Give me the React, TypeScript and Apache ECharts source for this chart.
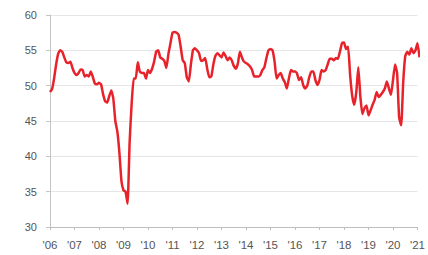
import React, { useEffect, useRef } from "react";
import * as echarts from "echarts";

// Monthly index values, Jan 2006 onward
const y2006 = [49.1, 49.5, 51, 53, 54.5, 55, 54.8, 54, 53.3, 53.2, 53.4, 52.5];
const y2007 = [51.8, 51.5, 51.8, 52.3, 52.2, 51.3, 51.5, 51.3, 52, 51.2, 50.3, 50.2];
const y2008 = [50.4, 50.2, 48.8, 47.8, 47.6, 48.5, 49.3, 48.2, 45, 43.5, 40.5, 36.5];
const y2009 = [35.2, 35, 33.3, 42, 47.5, 51, 51, 53.3, 52, 51.8, 51.8, 51];
const y2010 = [52.2, 51.8, 52.4, 53.4, 54.8, 55, 54, 53.8, 53.5, 52.5, 54.5, 56];
const y2011 = [57.5, 57.6, 57.5, 57.2, 55.5, 53.6, 53.2, 51.2, 50.6, 53, 55, 55.3];
const y2012 = [55, 54.6, 53.5, 53.6, 53.9, 52.4, 51.2, 51.3, 53, 54.2, 54.6, 54.3];
const y2013 = [54, 54.7, 54.2, 53.6, 54, 53.6, 52.8, 52.4, 53.1, 54.8, 54, 53.4];
const y2014 = [53.2, 53, 52.7, 52.2, 51.3, 51.3, 51.3, 51.5, 52.2, 52.6, 53.9, 55];
const y2015 = [55.2, 55, 53.4, 51, 51.5, 51.8, 51, 50.5, 49.6, 51, 52.2, 52];
const y2016 = [52, 51.7, 50.8, 51.2, 50.1, 49.6, 50, 51.2, 52, 52, 50.8, 50.1];
const y2017 = [50.8, 52.2, 52, 52.2, 53, 53.8, 53.8, 53.6, 53.9, 53.8, 54.8, 56];
const y2018 = [56.1, 55.2, 55.5, 51.5, 48.6, 47.3, 49, 52.6, 48.5, 46, 46.8, 47.2];
const y2019 = [45.8, 46.5, 47.3, 48, 49.1, 48.4, 48.7, 49.1, 49.6, 50.6, 49.6, 48.7];
const y2020 = [50.8, 53, 51.8, 45.5, 44.4, 50.5, 54.2, 54.8, 54.4, 55.3, 54.6, 55];
const y2021 = [56, 54];

const yearLabels = ["'06", "'07", "'08", "'09", "'10", "'11", "'12", "'13", "'14", "'15", "'16", "'17", "'18", "'19", "'20", "'21"];

const allValues = [
  ...y2006, ...y2007, ...y2008, ...y2009, ...y2010, ...y2011, ...y2012, ...y2013,
  ...y2014, ...y2015, ...y2016, ...y2017, ...y2018, ...y2019, ...y2020, ...y2021,
];

export default function App() {
  const ref = useRef<HTMLDivElement>(null);
  useEffect(() => {
    if (!ref.current) return;
    const chart = echarts.init(ref.current, undefined, { renderer: "svg" });
    const font = "'Liberation Sans', Arial, sans-serif";
    chart.setOption({
      animation: false,
      backgroundColor: "#ffffff",
      grid: { left: 50, right: 10, top: 15, bottom: 28, containLabel: false },
      xAxis: {
        type: "value",
        min: 0,
        max: 180,
        interval: 12,
        axisLine: { show: true, lineStyle: { color: "#bdbdbd", width: 1 } },
        axisTick: { show: true, length: 3, lineStyle: { color: "#bdbdbd" } },
        splitLine: { show: false },
        axisLabel: {
          color: "#555",
          fontSize: 11.5,
          fontFamily: font,
          margin: 12,
          formatter: (v: number) => {
            if (v % 12 !== 0) return "";
            return yearLabels[v / 12] ?? "";
          },
        },
      },
      yAxis: {
        type: "value",
        min: 30,
        max: 60,
        interval: 5,
        axisLine: { show: true, lineStyle: { color: "#c4c4c4", width: 1 } },
        axisTick: { show: true, length: 4, lineStyle: { color: "#c4c4c4" } },
        splitLine: { show: true, lineStyle: { color: "#e6e6e6", width: 1 } },
        axisLabel: { color: "#555", fontSize: 11, fontFamily: font, margin: 13 },
      },
      series: [
        {
          type: "line",
          data: allValues.map((v, i) => [i, v]),
          showSymbol: false,
          clip: false,
          smooth: 0.15,
          lineStyle: { color: "#e8222b", width: 2.5 },
        },
      ],
    });
    return () => chart.dispose();
  }, []);
  return (
    <div
      ref={ref}
      style={{ position: "fixed", left: 0, top: 0, width: 428, height: 255, background: "#fff" }}
    />
  );
}
